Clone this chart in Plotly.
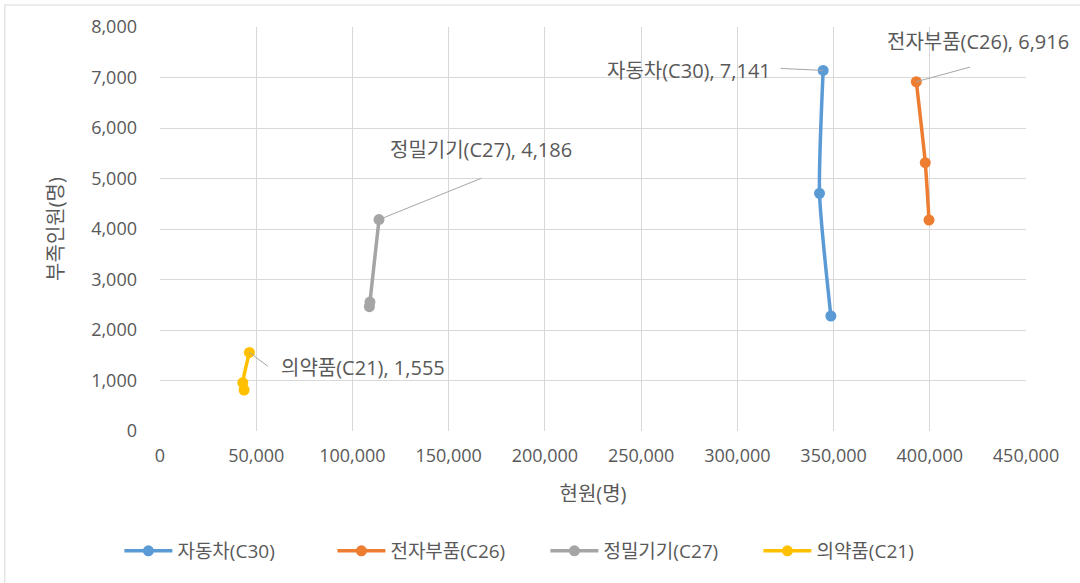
import plotly.graph_objects as go

# Data (현원, 부족인원)
series_names = ["자동차(C30)", "전자부품(C26)", "정밀기기(C27)", "의약품(C21)"]
auto_x = [348600, 342700, 344600]
auto_y = [2277, 4707, 7141]
elec_x = [399600, 397650, 393000]
elec_y = [4178, 5313, 6916]
prec_x = [108800, 109100, 113800]
prec_y = [2461, 2554, 4186]
pharm_x = [43700, 43030, 46460]
pharm_y = [812, 956, 1555]

colors = ["#5B9BD5", "#ED7D31", "#A5A5A5", "#FFC000"]
xs = [auto_x, elec_x, prec_x, pharm_x]
ys = [auto_y, elec_y, prec_y, pharm_y]

x_ticks = list(range(0, 450001, 50000))
y_ticks = list(range(0, 8001, 1000))

FONT = "Open Sans, Noto Sans CJK KR"
TXT = "#595959"

fig = go.Figure()
for name, x, y, c in zip(series_names, xs, ys, colors):
    fig.add_trace(go.Scatter(
        x=x, y=y, name=name, mode="lines+markers",
        line=dict(color=c, width=3.5, shape="spline", smoothing=0.6),
        marker=dict(color=c, size=11),
    ))

# data labels on the last point of each series: (arrow tail offset, text offset, anchor)
label_cfg = [
    (-44, -2, -50, 0, "right"),
    (55, -15, 62, 40, "center"),
    (104, -42, 102, 70, "center"),
    (20, 15, 30, -15, "left"),
]
for name, x, y, (ax, ay, xs_, ys_, anc) in zip(series_names, xs, ys, label_cfg):
    # leader line
    fig.add_annotation(x=x[-1], y=y[-1], text="", showarrow=True, arrowhead=0,
                       arrowwidth=1, arrowcolor="#A6A6A6", ax=ax, ay=ay)
    # label text
    fig.add_annotation(x=x[-1], y=y[-1], text=f"{name}, {y[-1]:,}", showarrow=False,
                       xshift=xs_, yshift=ys_, xanchor=anc, yanchor="middle",
                       font=dict(family=FONT, size=20, color=TXT))

fig.add_shape(type="rect", xref="paper", yref="paper",
              x0=(5 - 160) / 865, x1=(1090 - 160) / 865,
              y0=(431 - 600) / 404, y1=(431 - 5) / 404,
              line=dict(color="#D9D9D9", width=1), layer="below")

fig.update_layout(
    width=1080, height=583,
    margin=dict(l=160, r=54, t=27, b=152),
    paper_bgcolor="white", plot_bgcolor="white",
    font=dict(family=FONT, color=TXT),
    xaxis=dict(range=[0, 450000], tickvals=x_ticks, tickformat=",d",
               showgrid=True, gridcolor="#D9D9D9", gridwidth=1,
               zeroline=False, showline=False, ticks="", ticklabelstandoff=12,
               tickfont=dict(size=18, color=TXT),
               title=dict(text="현원(명)", font=dict(size=20, color=TXT), standoff=20)),
    yaxis=dict(range=[0, 8000], tickvals=y_ticks, tickformat=",d",
               showgrid=True, gridcolor="#D9D9D9", gridwidth=1,
               zeroline=False, showline=False, ticks="", ticklabelstandoff=22,
               tickfont=dict(size=18, color=TXT),
               title=dict(text="부족인원(명)", font=dict(size=20, color=TXT), standoff=22)),
    legend=dict(orientation="h", xref="container", yref="container",
                x=0.505, xanchor="center", y=0.055, yanchor="middle",
                entrywidth=150, entrywidthmode="pixels",
                font=dict(size=19, color=TXT), itemwidth=48),
    showlegend=True,
)

fig.write_html("out.html")
